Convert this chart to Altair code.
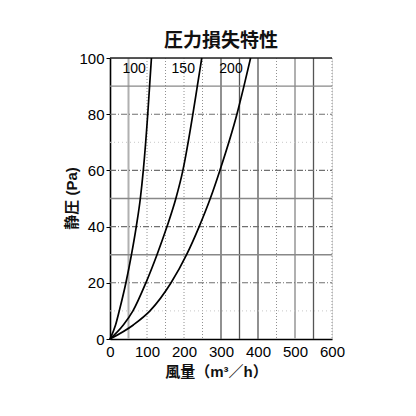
import altair as alt
import pandas as pd

# Data
pa_levels = [0, 5, 10, 20, 30, 40, 50, 60, 80, 90, 100]
flow_100 = [0, 15, 25, 43, 58, 71, 82, 90, 102, 107, 112]
flow_150 = [0, 36, 62, 97, 127, 154, 178, 197, 224, 236, 248]
flow_200 = [0, 63, 108, 165, 207, 241, 271, 297, 343, 362, 380]
series_names = ["100", "150", "200"]
label_flow = [65, 198, 327]
label_pa = [96, 96, 96]

x_ticks = [0, 100, 200, 300, 400, 500, 600]
y_ticks = [0, 20, 40, 60, 80, 100]

grid_x_solid = [300, 350, 400, 550]
grid_x_light = [50, 500]
grid_x_dotted = [100, 150, 200, 250, 450, 600]
grid_y_solid = [30, 50, 90]
grid_y_dashdot = [20, 40, 60, 80]
grid_y_faint = [10, 70]

FONT = "Liberation Sans, Noto Sans CJK JP"

rows = []
for name, flows in zip(series_names, [flow_100, flow_150, flow_200]):
    for i, (q, p) in enumerate(zip(flows, pa_levels)):
        rows.append({"series": name, "flow": q, "pa": p, "order": i})
curves = pd.DataFrame(rows)
labels = pd.DataFrame({"series": series_names, "flow": label_flow, "pa": label_pa})

xs = alt.Scale(domain=[0, 600], nice=False, zero=False)
ys = alt.Scale(domain=[0, 100], nice=False, zero=False)

x_axis = alt.Axis(values=x_ticks, title="風量（m³／h）", grid=False,
                  tickSize=0, labelPadding=5, domainColor="black",
                  domainWidth=1.6, labelFontSize=15, labelColor="black",
                  labelFont=FONT, titleFont=FONT, titleFontSize=15,
                  titleFontWeight="bold", titleColor="#111",
                  titleX=106, titleY=32, titleBaseline="middle",
                  labelFlush=False, labelOverlap=False)
y_axis = alt.Axis(values=y_ticks, title="静圧 (Pa)", grid=False,
                  tickSize=4, tickColor="black", labelPadding=2,
                  domainColor="black", domainWidth=1.6,
                  labelFontSize=15, labelColor="black", labelFont=FONT,
                  titleFont=FONT, titleFontSize=15, titleFontWeight="bold",
                  titleColor="#111", titleX=-39, titleY=140,
                  titleBaseline="middle", titleAngle=270,
                  labelOverlap=False)


def vrules(vals, color, width, dash=None):
    m = dict(color=color, strokeWidth=width)
    if dash:
        m["strokeDash"] = dash
    return alt.Chart(pd.DataFrame({"v": vals})).mark_rule(**m).encode(
        x=alt.X("v:Q", scale=xs, axis=x_axis), y=alt.value(0), y2=alt.value(281)
    )


def hrules(vals, color, width, dash=None):
    m = dict(color=color, strokeWidth=width)
    if dash:
        m["strokeDash"] = dash
    return alt.Chart(pd.DataFrame({"v": vals})).mark_rule(**m).encode(
        y=alt.Y("v:Q", scale=ys, axis=y_axis), x=alt.value(0), x2=alt.value(222)
    )


layers = [
    vrules(grid_x_light, "#b0b0b0", 2),
    vrules(grid_x_dotted, "#909090", 1, [1, 2]),
    vrules(grid_x_solid, "#555555", 1.3),
    hrules(grid_y_faint, "#c8c8c8", 1, [1, 3]),
    hrules(grid_y_dashdot, "#707070", 1.1, [6, 2, 1, 2]),
    hrules(grid_y_solid, "#888888", 1.4),
    hrules([100], "#222222", 1.5),
    alt.Chart(curves).mark_line(color="black", strokeWidth=1.7, interpolate="monotone").encode(
        x=alt.X("flow:Q", scale=xs, axis=x_axis),
        y=alt.Y("pa:Q", scale=ys, axis=y_axis),
        detail="series:N",
        order="order:Q",
    ),
    alt.Chart(labels).mark_text(fontSize=14, font=FONT, color="black").encode(
        x=alt.X("flow:Q", scale=xs, axis=x_axis),
        y=alt.Y("pa:Q", scale=ys, axis=y_axis),
        text="series:N",
    ),
]

chart = alt.layer(*layers).properties(
    width=222,
    height=281,
    title=alt.TitleParams("圧力損失特性", fontSize=19, font=FONT, fontWeight="bold",
                          color="#111", anchor="middle", offset=0),
    autosize=alt.AutoSizeParams(type="none"),
    padding={"left": 102, "top": 50, "right": 70, "bottom": 60},
).configure_view(stroke=None).configure(background="white")

chart.save("out.html", embed_options={"renderer": "svg", "actions": False})
